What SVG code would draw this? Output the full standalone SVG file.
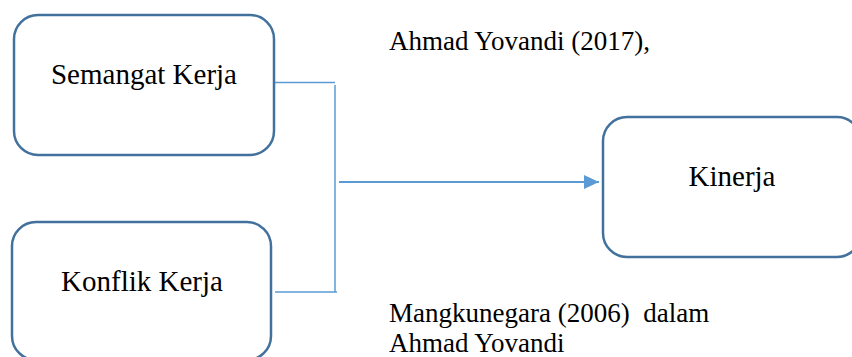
<svg xmlns="http://www.w3.org/2000/svg" width="852" height="357" viewBox="0 0 852 357">
<style>
.box{fill:#ffffff;stroke:#41719C;stroke-width:2.5}
.lbl{font-family:"Liberation Serif","Times New Roman",serif;font-size:29px;fill:#000}
.note{font-family:"Liberation Serif","Times New Roman",serif;font-size:27px;fill:#000}
.con{fill:none;stroke:#5B9BD5;stroke-width:1.5}
.arr{fill:none;stroke:#5B9BD5;stroke-width:2}
</style>
<defs>
<marker id="ah" markerWidth="16" markerHeight="16" refX="15" refY="7" orient="auto" markerUnits="userSpaceOnUse">
<path d="M0,0 L15,7 L0,14 Z" fill="#5B9BD5"/>
</marker>
</defs>
<rect width="852" height="357" fill="#ffffff"/>
<g id="connectors">
<path class="con" d="M274,82.5 H335 M335,85 V292 M275,292 H337"/>
<path class="arr" d="M339,182 H599" marker-end="url(#ah)"/>
</g>
<g id="semangat">
<rect class="box" x="14" y="15" width="260" height="140" rx="24"/>
<text class="lbl" x="144" y="84" text-anchor="middle">Semangat Kerja</text>
</g>
<g id="konflik">
<rect class="box" x="12" y="222" width="259" height="138" rx="24"/>
<text class="lbl" x="142" y="291" text-anchor="middle">Konflik Kerja</text>
</g>
<g id="kinerja">
<rect class="box" x="603" y="117" width="258" height="140" rx="24"/>
<text class="lbl" x="732" y="186" text-anchor="middle">Kinerja</text>
</g>
<g id="notes">
<text class="note" x="389" y="50">Ahmad Yovandi (2017),</text>
<text class="note" x="389" y="322" xml:space="preserve">Mangkunegara (2006)  dalam</text>
<text class="note" x="389" y="352">Ahmad Yovandi</text>
</g>
</svg>
